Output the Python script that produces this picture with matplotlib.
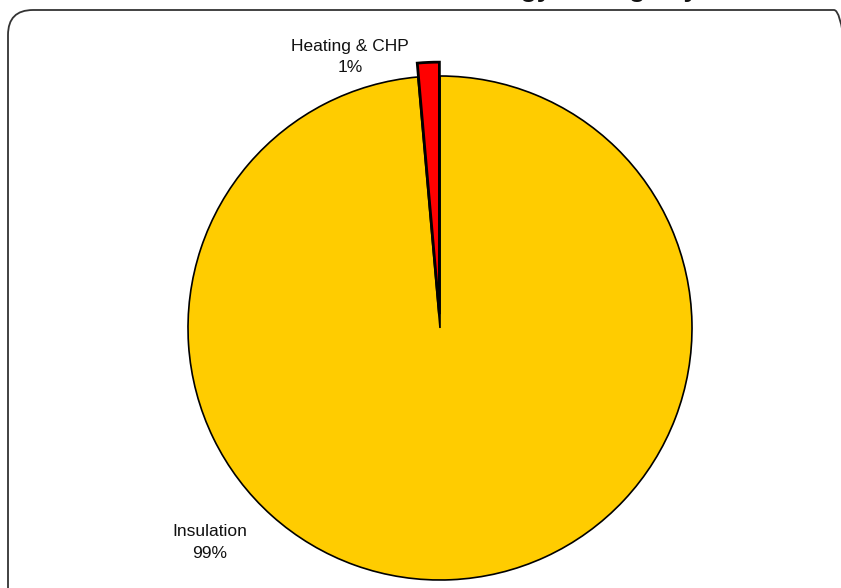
import matplotlib.pyplot as plt
from matplotlib.patches import FancyBboxPatch

plt.rcParams['font.family'] = ['Liberation Sans', 'DejaVu Sans']

# Data
categories = ['Insulation', 'Heating & CHP']
values = [98.6, 1.4]
colors = ['#FFCC00', '#FF0000']
explode = [0, 0.055]
title = 'Energy Savings by Measure'

# label positions (data units, pie radius = 1)
label_pos = [(-0.913, -0.85), (-0.357, 1.075)]

W, H = 841, 588
fig = plt.figure(figsize=(W / 100, H / 100), dpi=100)

# rounded chart border in pixel coords (partly outside the canvas)
border = FancyBboxPatch((8, -40), 851, 618,
                        boxstyle='round,pad=0,rounding_size=25',
                        fill=False, edgecolor='#333333', linewidth=1.3)
border.set_transform(None)
fig.patches.append(border)

# title mostly cut off at the top edge
fig.text(462 / W, 1 + 3.5 / H, title, ha='left', va='baseline',
         fontsize=19, fontweight='bold', color='#111111')

# axes placed so the pie centre sits at (440, 328) px, radius 252 px
lim = 1.1
half = 252 * lim
cx, cy = 440, H - 328
ax = fig.add_axes([(cx - half) / W, (cy - half) / H,
                   2 * half / W, 2 * half / H])
wedges, _ = ax.pie(values, colors=colors, explode=explode, startangle=90,
                   counterclock=False, radius=1,
                   wedgeprops=dict(edgecolor='black', linewidth=1.2))
wedges[1].set_linewidth(2.0)
ax.set_xlim(-lim, lim)
ax.set_ylim(-lim, lim)
ax.set_aspect('equal')
ax.axis('off')

total = sum(values)
for name, v, (x, y) in zip(categories, values, label_pos):
    ax.text(x, y, f'{name}\n{v / total * 100:.0f}%', ha='center',
            va='center', fontsize=12.5, color='#111111', linespacing=1.55)

fig.savefig('out.png', dpi=100)
